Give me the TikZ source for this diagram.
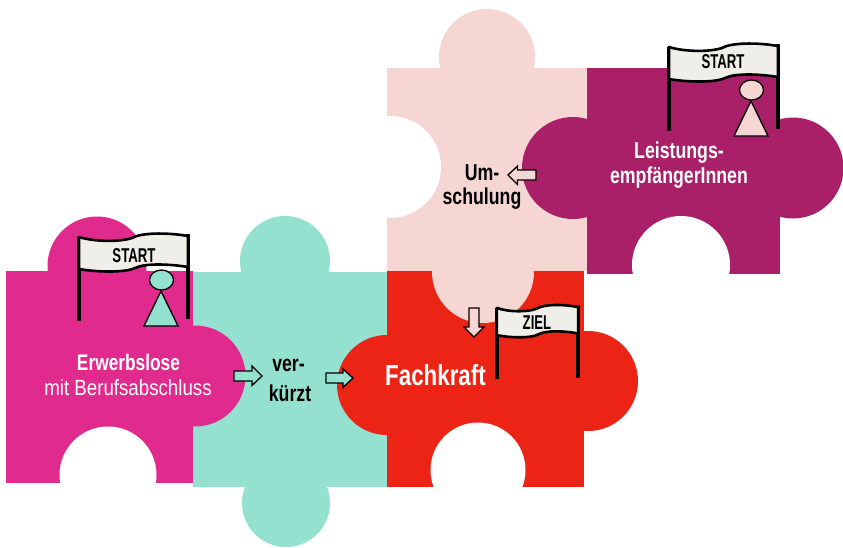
\documentclass[tikz,border=0pt]{standalone}
\usepackage{fontspec}
\setmainfont[FakeStretch=0.77]{Liberation Sans}
\newfontfamily\regfont[FakeStretch=0.85]{Liberation Sans}
\newfontfamily\flagfont[FakeStretch=0.66]{Liberation Sans}
\definecolor{cMag}{HTML}{E02A8E}
\definecolor{cTeal}{HTML}{93E1CE}
\definecolor{cRed}{HTML}{EC2416}
\definecolor{cPale}{HTML}{F5D6D3}
\definecolor{cPur}{HTML}{A91F68}
\definecolor{cFlag}{HTML}{F0EEE8}
\tikzset{
  lab/.style={font=\fontsize{#1}{#1}\selectfont\bfseries,inner sep=0pt,text=black},
  wlab/.style={lab=#1,text=white},
  flaglab/.style={font=\flagfont\fontsize{20}{20}\selectfont\bfseries,inner sep=0pt,text=black},
  pole/.style={line width=4.5pt,black},
  cloth/.style={draw=black,line width=2.6pt,fill=cFlag,line join=round},
  blockarrow/.style={draw=black,line width=1.3pt,line join=miter},
  person/.style={draw=black,line width=1.3pt,line join=miter}
}
\newcommand{\myflag}{%
  \draw[pole] (79,237) -- (79,321);
  \draw[pole] (188,234) -- (188,319);
  \draw[cloth] (79,237) .. controls (95,242) and (120,242) .. (132,238)
     .. controls (140,233) and (165,232) .. (188,236) -- (188,267)
     .. controls (170,264) and (145,263) .. (135,268)
     .. controls (125,273) and (95,272) .. (79,269) -- cycle;
}
\newcommand{\myperson}[1]{%
  \draw[person,fill=#1] (161,291) -- (144,326) -- (178,326) -- cycle;
  \draw[person,fill=#1] (161.5,280) ellipse (12 and 10);
}
\begin{document}
\begin{tikzpicture}[x=1pt,y=-1pt]
\useasboundingbox (0,0) rectangle (843,547);
% teal piece
\fill[cTeal] (193,272) rectangle (387,487);
\fill[cTeal] (285,261) circle (45);
\fill[cTeal] (286,503) circle (44);
% magenta piece
\fill[cMag] (6,271) rectangle (193,483);
\fill[cMag] (97,266) circle (49.5);
\fill[cMag] (195,376) circle (50.5);
% pale piece
\fill[cPale] (387,68) rectangle (587,271);
\fill[cPale] (487,57) circle (48);
% red piece
\fill[cRed] (387,271) rectangle (584,487);
\fill[cRed] (387,385) circle (50);
\fill[cRed] (588,381) circle (50);
\fill[cPale] (483,272) circle (51);
% purple piece
\fill[cPur] (587,68) rectangle (780,274);
\fill[cPur] (573,168) circle (51);
\fill[cPur] (793,168) circle (50.5);
% holes
\fill[white] (108,475) circle (48.5);
\fill[white] (478,470) circle (47.5);
\fill[white] (390,167) circle (51);
\fill[white] (681,265) circle (49);
% flags
\myflag
\myperson{cTeal}
\node[flaglab] (startA) at (134,255.5) {START};
\begin{scope}[shift={(590,-190)}]
  \myflag
  \myperson{cPale}
\end{scope}
\node[flaglab] (startB) at (723,62) {START};
\begin{scope}[shift={(438,106.5)},xscale=0.745,yscale=0.85]
  \myflag
\end{scope}
\node[flaglab] (ziel) at (537,323) {ZIEL};
% arrows
\draw[blockarrow,fill=cTeal] (234,371) -- (252,371) -- (252,366) -- (262,376) -- (252,385.5) -- (252,381) -- (234,381) -- cycle;
\draw[blockarrow,fill=cTeal] (326,373) -- (343,373) -- (343,369) -- (353,378) -- (343,387.5) -- (343,383) -- (326,383) -- cycle;
\draw[blockarrow,fill=cPale] (536,170) -- (517.5,170) -- (517.5,166) -- (508,175) -- (517.5,184.5) -- (517.5,180) -- (536,180) -- cycle;
\draw[blockarrow,fill=cPale] (469,308) -- (479,308) -- (479,327) -- (484,327) -- (474,337) -- (464,327) -- (469,327) -- cycle;
% labels
\node[wlab=22.5] (erw) at (128.5,362) {Erwerbslose};
\node[font=\regfont\fontsize{22}{22}\selectfont,inner sep=0pt,text=white] (mit) at (128,388) {mit Berufsabschluss};
\node[lab=23] (ver) at (288.5,365) {ver-};
\node[lab=23] (kurz) at (290,393) {kürzt};
\node[lab=23] (um) at (482,173) {Um-};
\node[lab=23] (schul) at (482,199) {schulung};
\node[wlab=23] (leist) at (679,153) {Leistungs-};
\node[wlab=23] (empf) at (679,178) {empfängerInnen};
\node[wlab=29] (fach) at (435.5,375) {Fachkraft};
\end{tikzpicture}
\end{document}
